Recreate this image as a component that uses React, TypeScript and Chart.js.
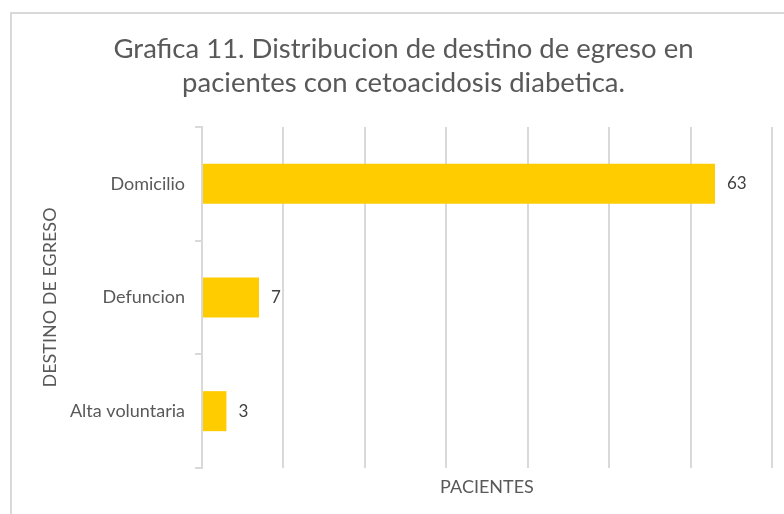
import React, { useEffect, useRef } from "react";
import { Chart, registerables } from "chart.js";

Chart.register(...registerables);

const categories = ["Domicilio", "Defuncion", "Alta voluntaria"];
const pacientes = [63, 7, 3];
const titleLines = ["Grafica 11. Distribucion de destino de egreso en", "pacientes con cetoacidosis diabetica."];
const yAxisTitle = "DESTINO DE EGRESO";
const xAxisTitle = "PACIENTES";

const FONT = "Lato, 'Liberation Sans', sans-serif";
const GRID = "#d9d9d9";

const frame = {
  id: "frame",
  beforeDraw(chart: any) {
    const ctx = chart.ctx;
    ctx.save();
    ctx.fillStyle = "#ffffff";
    ctx.fillRect(0, 0, chart.width, chart.height);
    ctx.strokeStyle = GRID;
    ctx.lineWidth = 2;
    ctx.strokeRect(11, 13, chart.width + 20, chart.height + 20);
    ctx.restore();
  },
};

const chartTitle = {
  id: "chartTitle",
  afterDraw(chart: any) {
    const ctx = chart.ctx;
    ctx.save();
    ctx.font = `27.5px ${FONT}`;
    ctx.fillStyle = "#595959";
    ctx.textAlign = "center";
    ctx.textBaseline = "alphabetic";
    const cx = 403.5;
    titleLines.forEach((line, i) => ctx.fillText(line, cx, 58 + i * 34));
    ctx.restore();
  },
};

const valueLabels = {
  id: "valueLabels",
  afterDatasetsDraw(chart: any) {
    const ctx = chart.ctx;
    const meta = chart.getDatasetMeta(0);
    ctx.save();
    ctx.font = `17px ${FONT}`;
    ctx.fillStyle = "#404040";
    ctx.textAlign = "left";
    ctx.textBaseline = "middle";
    meta.data.forEach((bar: any, i: number) => {
      ctx.fillText(String(chart.data.datasets[0].data[i]), bar.x + 12, bar.y);
    });
    ctx.restore();
  },
};

export default function App() {
  const ref = useRef<HTMLCanvasElement>(null);
  useEffect(() => {
    const chart = new Chart(ref.current!, {
      type: "bar",
      data: {
        labels: categories,
        datasets: [
          {
            data: pacientes,
            backgroundColor: "#FFCC00",
            categoryPercentage: 1,
            barPercentage: 0.352,
          },
        ],
      },
      plugins: [frame, valueLabels, chartTitle],
      options: {
        indexAxis: "y",
        responsive: false,
        animation: false,
        layout: { padding: { left: 12, right: 12, top: 127, bottom: 0 } },
        plugins: {
          legend: { display: false },
          tooltip: { enabled: false },
          title: { display: false },
        },
        scales: {
          x: {
            min: 0,
            max: 70,
            ticks: { display: false, stepSize: 10 },
            grid: { color: GRID, lineWidth: 2, drawTicks: false },
            border: { display: false },
            title: {
              display: true,
              text: xAxisTitle,
              color: "#595959",
              font: { family: FONT, size: 18 },
              padding: { top: 8, bottom: 16 },
            },
            afterFit(scale: any) {
              scale.height = 46;
            },
          },
          y: {
            ticks: { color: "#595959", font: { family: FONT, size: 18 }, padding: 10 },
            grid: { offset: true, drawOnChartArea: false, drawTicks: true, tickLength: 7, color: GRID, lineWidth: 2 },
            border: { display: true, color: GRID, width: 2 },
            title: {
              display: true,
              text: yAxisTitle,
              color: "#595959",
              font: { family: FONT, size: 18 },
              padding: { top: 27, bottom: 0 },
            },
            afterFit(scale: any) {
              scale.width = 190;
            },
          },
        },
      } as any,
    });
    return () => chart.destroy();
  }, []);
  return (
    <div style={{ position: "fixed", left: 0, top: 0, width: 784, height: 514, background: "#fff" }}>
      <canvas ref={ref} width={784} height={514} style={{ display: "block" }} />
    </div>
  );
}
